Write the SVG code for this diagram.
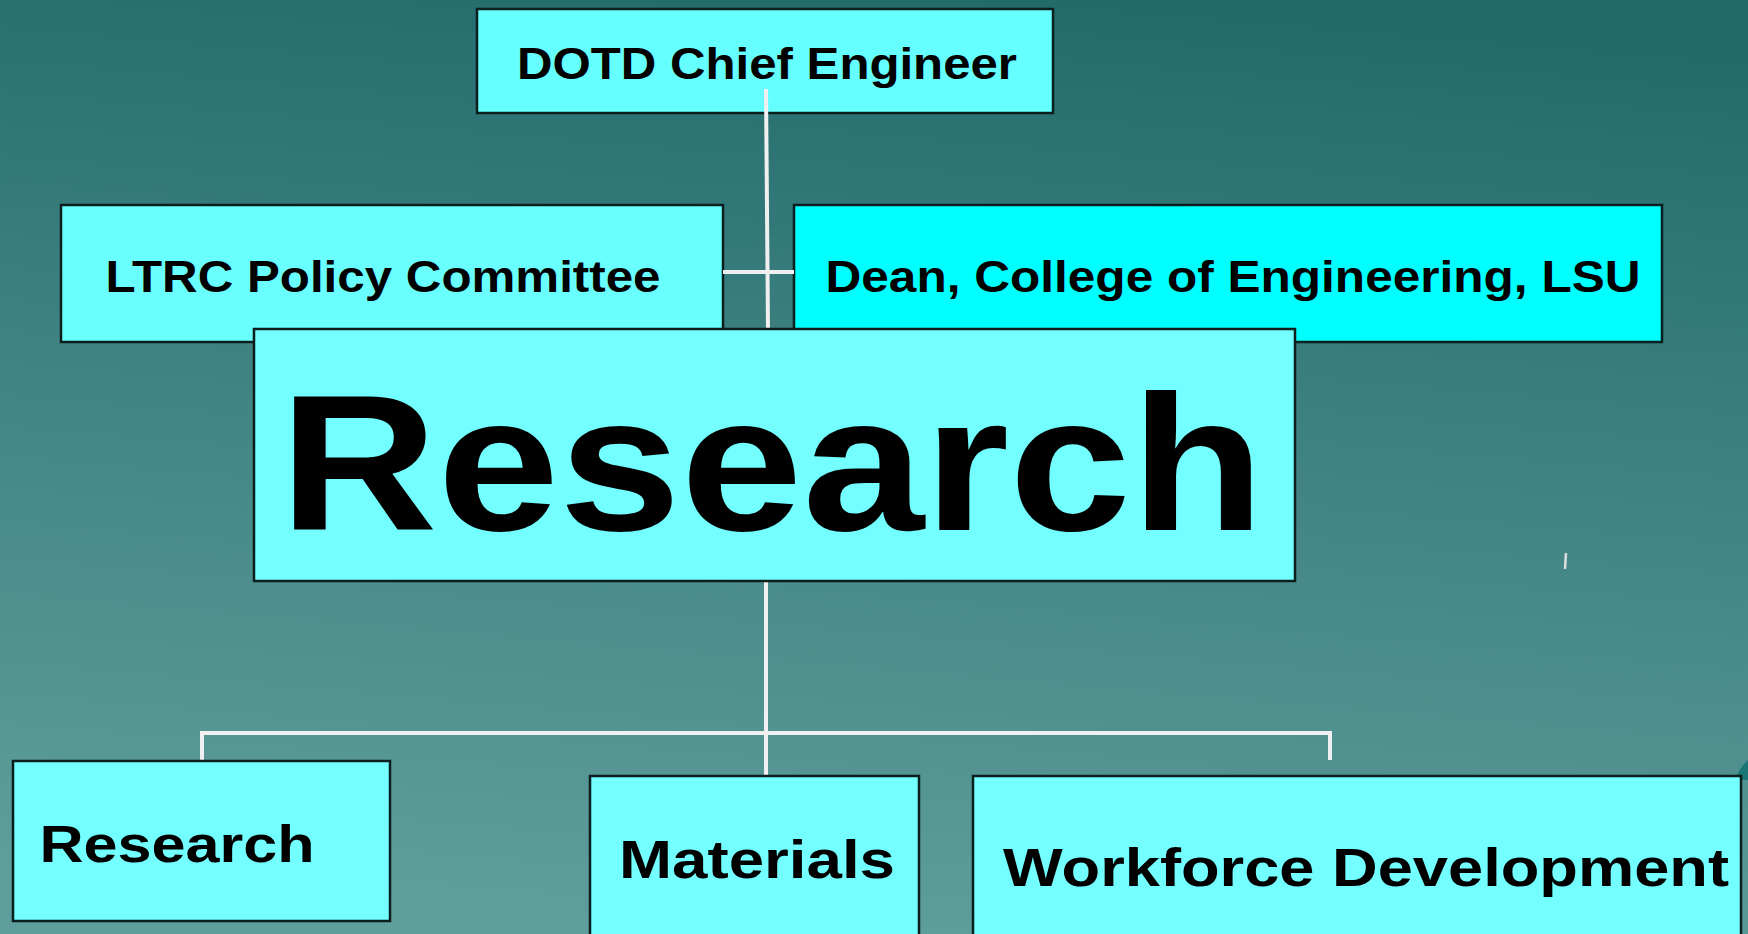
<svg xmlns="http://www.w3.org/2000/svg" width="1748" height="934" viewBox="0 0 1748 934">
<defs>
<linearGradient id="bg" x1="0.58" y1="0" x2="0.42" y2="1">
<stop offset="0" stop-color="#236b6b"/>
<stop offset="0.5" stop-color="#438585"/>
<stop offset="1" stop-color="#5e9e9c"/>
</linearGradient>
<style>
.box{stroke:#0b1f1f;stroke-width:2.5}
.t{font-family:"Liberation Sans",Arial,sans-serif;font-weight:bold;fill:#000;text-anchor:middle}
.c{stroke:#f0f0f0;stroke-width:4;fill:none}
</style>
</defs>
<rect width="1748" height="934" fill="url(#bg)"/>
<path d="M1735,780 Q1740,767 1748,760 L1748,780 Z" fill="#1d7676"/>
<g id="dotd">
<rect class="box" x="477" y="9" width="576" height="104" fill="#66ffff"/>
<text class="t" x="767" y="79" font-size="44" textLength="500" lengthAdjust="spacingAndGlyphs">DOTD Chief Engineer</text>
</g>
<g id="ltrc">
<rect class="box" x="61" y="205" width="662" height="137" fill="#6affff"/>
<text class="t" x="383" y="292" font-size="44" textLength="555" lengthAdjust="spacingAndGlyphs">LTRC Policy Committee</text>
</g>
<g id="dean">
<rect class="box" x="794" y="205" width="868" height="137" fill="#00ffff"/>
<text class="t" x="1233" y="292" font-size="44" textLength="815" lengthAdjust="spacingAndGlyphs">Dean, College of Engineering, LSU</text>
</g>
<g id="connectors">
<line class="c" x1="766" y1="89" x2="768" y2="329"/>
<line class="c" x1="723" y1="272" x2="794" y2="272" stroke="#dcdcdc"/>
<line class="c" x1="766" y1="581" x2="766" y2="776"/>
<polyline class="c" points="202,761 202,733 1330,733 1330,760"/>
<line x1="1566" y1="553" x2="1565" y2="569" stroke="#dddddd" stroke-width="2.5"/>
</g>
<g id="research-main">
<rect class="box" x="254" y="329" width="1041" height="252" fill="#73ffff"/>
<text class="t" x="772" y="530" font-size="193" textLength="985" lengthAdjust="spacingAndGlyphs">Research</text>
</g>
<g id="research">
<rect class="box" x="13" y="761" width="377" height="160" fill="#73ffff"/>
<text class="t" x="177" y="862" font-size="52" textLength="275" lengthAdjust="spacingAndGlyphs">Research</text>
</g>
<g id="materials">
<rect class="box" x="590" y="776" width="329" height="170" fill="#73ffff"/>
<text class="t" x="757" y="878" font-size="53" textLength="276" lengthAdjust="spacingAndGlyphs">Materials</text>
</g>
<g id="workforce">
<rect class="box" x="973" y="776" width="768" height="170" fill="#73ffff"/>
<text class="t" x="1366" y="886" font-size="54" textLength="726" lengthAdjust="spacingAndGlyphs">Workforce Development</text>
</g>
</svg>
